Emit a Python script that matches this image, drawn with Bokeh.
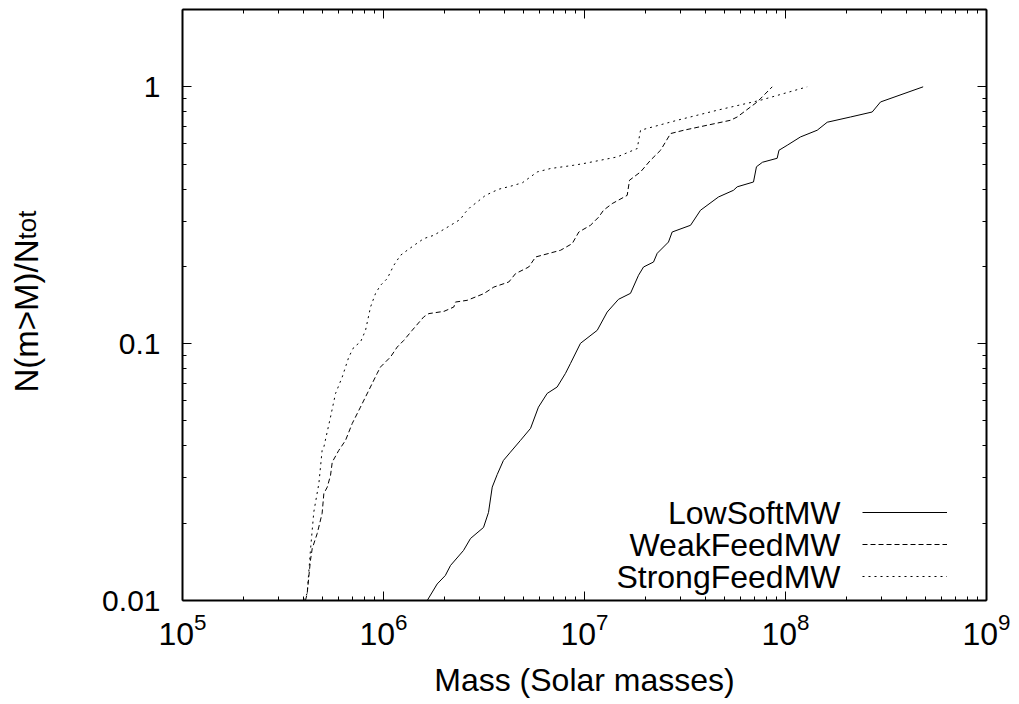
import math
from bokeh.plotting import figure
from bokeh.models import (LogAxis, FixedTicker, CustomJSTickFormatter, Label,
                          Legend, LegendItem)
from bokeh.embed import file_html
from bokeh.resources import INLINE

FONT = "Liberation Sans"

# ---------------- data ----------------
series_names = ["LowSoftMW", "WeakFeedMW", "StrongFeedMW"]

low_mass = [1.65e6, 1.85e6, 2.03e6, 2.155e6, 2.50e6, 2.71e6, 3.145e6, 3.33e6,
            3.475e6, 3.68e6, 3.95e6, 4.28e6, 4.80e6, 5.39e6, 5.90e6, 6.52e6,
            7.31e6, 8.04e6, 8.52e6, 9.55e6, 1.157e7, 1.297e7, 1.476e7, 1.694e7,
            1.857e7, 1.966e7, 2.205e7, 2.30e7, 2.617e7, 2.73e7, 3.37e7, 3.776e7,
            4.64e7, 5.51e7, 5.75e7, 6.93e7, 7.17e7, 7.68e7, 9.09e7, 9.28e7,
            1.02e8, 1.187e8, 1.438e8, 1.613e8, 2.106e8, 2.70e8, 2.97e8, 4.84e8]
low_frac = [0.01, 0.0116, 0.01251, 0.01369, 0.01566, 0.01744, 0.01925, 0.02203,
            0.02763, 0.03096, 0.0351, 0.0378, 0.042, 0.0468, 0.0566, 0.0640,
            0.0678, 0.0766, 0.0838, 0.1003, 0.1127, 0.1328, 0.1488, 0.157,
            0.1846, 0.1988, 0.2079, 0.2248, 0.2487, 0.2721, 0.289, 0.3306,
            0.3725, 0.3955, 0.408, 0.426, 0.4884, 0.5085, 0.527, 0.5662,
            0.5922, 0.638, 0.6776, 0.728, 0.763, 0.798, 0.873, 1.0]

weak_mass = [4.09e5, 4.17e5, 4.33e5, 4.42e5, 4.68e5, 4.95e5, 5.05e5, 5.25e5,
             5.45e5, 5.56e5, 5.99e5, 6.47e5, 6.99e5, 7.68e5, 8.45e5, 9.30e5,
             9.66e5, 1.083e6, 1.17e6, 1.262e6, 1.389e6, 1.587e6, 1.68e6, 2.0e6,
             2.238e6, 2.28e6, 2.61e6, 3.155e6, 3.54e6, 4.20e6, 4.54e6, 5.28e6,
             5.71e6, 7.60e6, 8.69e6, 9.37e6, 1.071e7, 1.178e7, 1.243e7, 1.373e7,
             1.631e7, 1.675e7, 1.90e7, 2.13e7, 2.39e7, 2.68e7, 3.12e7, 4.08e7,
             5.33e7, 5.75e7, 7.23e7, 8.59e7]
weak_frac = [0.01, 0.01062, 0.01432, 0.01594, 0.01824, 0.02183, 0.02611, 0.02763,
             0.0307, 0.0346, 0.0384, 0.042, 0.0489, 0.0566, 0.0658, 0.0766,
             0.0811, 0.0887, 0.097, 0.103, 0.1127, 0.1272, 0.1309, 0.1336,
             0.1389, 0.1452, 0.1475, 0.1566, 0.1661, 0.1738, 0.1874, 0.1988,
             0.2175, 0.231, 0.2453, 0.2721, 0.289, 0.3113, 0.3306, 0.351,
             0.378, 0.4329, 0.4662, 0.5178, 0.5662, 0.6577, 0.6776, 0.7087,
             0.741, 0.763, 0.873, 1.0]

strong_mass = [4.0e5, 4.17e5, 4.33e5, 4.50e5, 4.77e5, 4.95e5, 5.05e5, 5.45e5,
               5.77e5, 6.23e5, 6.72e5, 7.12e5, 7.68e5, 8.14e5, 8.62e5, 9.12e5,
               9.66e5, 1.043e6, 1.125e6, 1.215e6, 1.312e6, 1.443e6, 1.587e6,
               1.779e6, 2.058e6, 2.416e6, 2.53e6, 2.71e6, 2.925e6, 3.218e6,
               3.734e6, 4.28e6, 4.91e6, 5.82e6, 6.77e6, 8.85e6, 9.92e6, 1.454e7,
               1.829e7, 1.90e7, 2.892e7, 4.57e7, 7.51e7, 1.282e8]
strong_frac = [0.01, 0.01065, 0.01566, 0.0221, 0.02856, 0.0384, 0.0396, 0.0518,
               0.0639, 0.0741, 0.0887, 0.097, 0.1014, 0.1127, 0.1389, 0.1566,
               0.1687, 0.1791, 0.2018, 0.2208, 0.231, 0.2436, 0.2565, 0.2642,
               0.2826, 0.305, 0.3218, 0.3405, 0.356, 0.378, 0.3991, 0.41,
               0.4231, 0.4662, 0.4806, 0.4951, 0.5027, 0.5333, 0.575, 0.6776,
               0.741, 0.8105, 0.8867, 1.0]

x_major = [1e5, 1e6, 1e7, 1e8, 1e9]
y_major = [0.01, 0.1, 1.0]
x_label = "Mass (Solar masses)"
y_label_main = "N(m>M)/N"
y_label_sub = "tot"

# ---------------- figure ----------------
x_minor = [m * 10.0 ** e for e in range(5, 9) for m in range(2, 10)]
y_minor = [round(m * 10.0 ** e, 6) for e in (-2, -1, 0) for m in range(2, 10)]

p = figure(width=1011, height=700, x_axis_type="log", y_axis_type="log",
           x_range=(1e5, 1e9), y_range=(0.01, 2.0),
           output_backend="svg", toolbar_location=None,
           min_border_left=182, min_border_right=25,
           min_border_top=9, min_border_bottom=100)
p.grid.visible = False
p.outline_line_color = None
p.background_fill_color = "white"
p.border_fill_color = "white"

xt = FixedTicker(ticks=x_major, minor_ticks=x_minor)
yt = FixedTicker(ticks=y_major, minor_ticks=y_minor)


def style_axis(ax):
    ax.axis_line_width = 2
    ax.axis_line_color = "black"
    ax.major_tick_in = 9
    ax.major_tick_out = 0
    ax.minor_tick_in = 4
    ax.minor_tick_out = 0
    ax.major_tick_line_color = "black"
    ax.minor_tick_line_color = "black"
    ax.major_tick_line_width = 1
    ax.minor_tick_line_width = 1
    ax.major_label_text_font = FONT
    ax.major_label_text_color = "black"
    ax.axis_label_text_font = FONT
    ax.axis_label_text_font_style = "normal"
    ax.axis_label_text_color = "black"


xa = p.xaxis[0]
xa.ticker = xt
style_axis(xa)
xa.major_label_text_font_size = "32px"
xa.major_label_standoff = 12
xa.axis_label = x_label
xa.axis_label_text_font_size = "32px"
xa.axis_label_standoff = 14

ya = p.yaxis[0]
ya.ticker = yt
style_axis(ya)
ya.formatter = CustomJSTickFormatter(code="return tick.toString();")
ya.major_label_text_font_size = "30px"
ya.major_label_standoff = 22

blank = CustomJSTickFormatter(code="return '';")
top_ax = LogAxis(ticker=xt, formatter=blank, major_label_standoff=0)
style_axis(top_ax)
right_ax = LogAxis(ticker=yt, formatter=blank, major_label_standoff=0)
style_axis(right_ax)
p.add_layout(top_ax, "above")
p.add_layout(right_ax, "right")

# ---------------- curves ----------------
r_low = p.line(low_mass, low_frac, line_color="black", line_width=1)
r_weak = p.line(weak_mass, weak_frac, line_color="black", line_width=1,
                line_dash="5 3")
r_strong = p.line(strong_mass, strong_frac, line_color="black", line_width=1,
                  line_dash="2 4")

# ---------------- legend (gnuplot style: text then sample) ----------------
legend = Legend(items=[LegendItem(label="", renderers=[r]) for r in (r_low, r_weak, r_strong)],
                location=(680, 8), padding=0, margin=0, spacing=0,
                glyph_width=85, glyph_height=32, label_standoff=0,
                label_width=0, label_height=0, label_text_font_size="1px",
                border_line_color=None, background_fill_alpha=0)
p.add_layout(legend)

for name, yy in zip(series_names, (88, 56, 24)):
    p.add_layout(Label(x=658, y=yy, x_units="screen", y_units="screen",
                       text=name, text_align="right", text_baseline="middle",
                       text_font=FONT, text_font_size="32px", text_color="black"))

# ---------------- y axis label with subscript (in the left panel) ----------------
p.add_layout(Label(x=-36, y=208, x_units="screen", y_units="screen",
                   text=y_label_main, angle=math.pi / 2, text_align="left",
                   text_baseline="alphabetic", text_font=FONT,
                   text_font_size="33px", text_color="black"), "left")
p.add_layout(Label(x=-6, y=361, x_units="screen", y_units="screen",
                   text=y_label_sub, angle=math.pi / 2, text_align="left",
                   text_baseline="alphabetic", text_font=FONT,
                   text_font_size="26px", text_color="black"), "left")

open("out.html", "w").write(file_html(p, INLINE))
